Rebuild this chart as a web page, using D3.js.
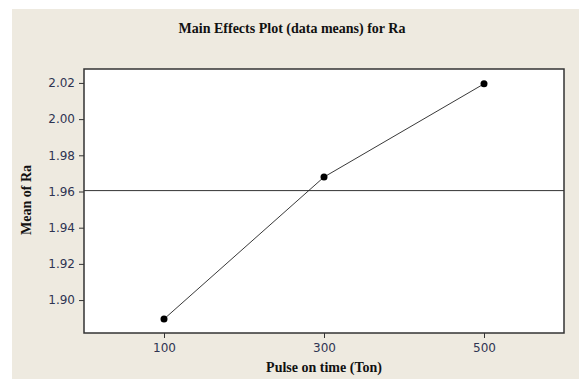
<!DOCTYPE html>
<html>
<head>
<meta charset="utf-8">
<script src="https://cdn.jsdelivr.net/npm/d3@7"></script>
<style>
  body { margin: 0; background: #fff; }
  .tick text { font-family: "DejaVu Sans", sans-serif; font-size: 12px; fill: #2e3452; }
  .ttl { font-family: "Liberation Serif", serif; font-weight: bold; fill: #111; }
</style>
</head>
<body>
<div id="chart"></div>
<script>
// Data
const levels = [100, 300, 500];
const means = [1.8895, 1.968, 2.0195];
const grandMean = 1.9605;
const xTicks = [100, 300, 500];
const yTicks = [1.90, 1.92, 1.94, 1.96, 1.98, 2.00, 2.02];

const W = 579, H = 379;
const margin = { top: 69, right: 15, bottom: 46, left: 84 };
const width = W - margin.left - margin.right;
const height = H - margin.top - margin.bottom;

const svg = d3.select("#chart").append("svg")
    .attr("width", W)
    .attr("height", H);

// beige panel
svg.append("rect")
    .attr("x", 12).attr("y", 9)
    .attr("width", W - 12).attr("height", H - 9)
    .attr("fill", "#eeeae0");

svg.append("text")
    .attr("class", "ttl")
    .attr("x", 292).attr("y", 33)
    .attr("text-anchor", "middle")
    .style("font-size", "14px")
    .text("Main Effects Plot (data means) for Ra");

const g = svg.append("g")
    .attr("transform", `translate(${margin.left}, ${margin.top})`);

const x = d3.scaleLinear().domain([0, 600]).range([0, width]);
const y = d3.scaleLinear().domain([1.8818, 2.0277]).range([height, 0]);

g.append("rect")
    .attr("width", width).attr("height", height)
    .attr("fill", "#fff");

// axes
const xAxis = g.append("g")
    .attr("transform", `translate(0, ${height})`)
    .call(d3.axisBottom(x).tickValues(xTicks).tickSize(5).tickPadding(5).tickFormat(d3.format("d")));
const yAxis = g.append("g")
    .call(d3.axisLeft(y).tickValues(yTicks).tickSize(5).tickPadding(4).tickFormat(d3.format(".2f")));
[xAxis, yAxis].forEach(a => {
    a.select(".domain").remove();
    a.selectAll(".tick line").attr("stroke", "#333");
});

// reference line at grand mean
g.append("line")
    .attr("x1", 0).attr("x2", width)
    .attr("y1", y(grandMean)).attr("y2", y(grandMean))
    .attr("stroke", "#333").attr("stroke-width", 1);

const pts = levels.map((l, i) => ({ l, v: means[i] }));

g.append("path")
    .datum(pts)
    .attr("fill", "none")
    .attr("stroke", "#222")
    .attr("stroke-width", 0.9)
    .attr("d", d3.line().x(d => x(d.l)).y(d => y(d.v)));

g.selectAll(".pt").data(pts).enter()
    .append("circle")
    .attr("class", "pt")
    .attr("cx", d => x(d.l))
    .attr("cy", d => y(d.v))
    .attr("r", 3.5)
    .attr("fill", "#000");

// frame
g.append("rect")
    .attr("width", width).attr("height", height)
    .attr("fill", "none")
    .attr("stroke", "#333").attr("stroke-width", 1.5);

// axis titles
svg.append("text")
    .attr("class", "ttl")
    .attr("x", margin.left + x(300)).attr("y", 372)
    .attr("text-anchor", "middle")
    .style("font-size", "14px")
    .text("Pulse on time (Ton)");

svg.append("text")
    .attr("class", "ttl")
    .attr("transform", `translate(31, 200) rotate(-90)`)
    .attr("text-anchor", "middle")
    .style("font-size", "14px")
    .text("Mean of Ra");
</script>
</body>
</html>
